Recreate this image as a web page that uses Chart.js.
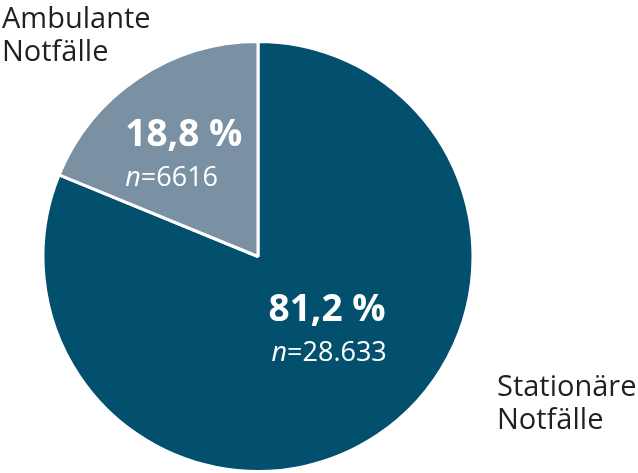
<!DOCTYPE html>
<html>
<head>
<meta charset="utf-8">
<script src="https://cdn.jsdelivr.net/npm/chart.js@4/dist/chart.umd.min.js"></script>
<style>
html,body{margin:0;padding:0;background:#fff;}
#wrap{width:638px;height:473px;position:relative;}
</style>
</head>
<body>
<div id="wrap"><canvas id="c" width="638" height="473"></canvas></div>
<script>
const categories = ['Stationäre Notfälle', 'Ambulante Notfälle'];
const shares = [81.2, 18.8];
const counts = [28633, 6616];
const colors = ['#03506e', '#7a90a3'];

const FONT = '"Open Sans", "Noto Sans", sans-serif';
const fmtPct = v => v.toFixed(1).replace('.', ',') + ' %';
const fmtN = v => v >= 10000 ? String(v).replace(/\B(?=(\d{3})+(?!\d))/g, '.') : String(v);

const labelPlugin = {
  id: 'sliceLabels',
  afterDatasetsDraw(chart, args, opts) {
    const ctx = chart.ctx;
    const meta = chart.getDatasetMeta(0);
    meta.data.forEach((arc, i) => {
      const p = arc.getProps(['x','y','startAngle','endAngle','outerRadius'], true);
      const place = opts.inner[i];
      const mid = (p.startAngle + p.endAngle) / 2 + place.angle * Math.PI / 180;
      const r = p.outerRadius * place.factor;
      const cx = p.x + Math.cos(mid) * r;
      const cy = p.y + Math.sin(mid) * r;
      ctx.save();
      ctx.fillStyle = '#ffffff';
      ctx.textBaseline = 'alphabetic';
      ctx.font = 'bold 37px ' + FONT;
      const pct = fmtPct(shares[i]);
      const w = ctx.measureText(pct).width;
      const left = cx - w / 2;
      ctx.textAlign = 'left';
      ctx.fillText(pct, left, cy);
      ctx.font = 'italic 27px ' + FONT;
      ctx.fillText('n', left + place.nShift, cy + 40);
      const nw = ctx.measureText('n').width;
      ctx.font = '27px ' + FONT;
      ctx.fillText('=' + fmtN(counts[i]), left + place.nShift + nw, cy + 40);
      ctx.restore();
    });
    ctx.save();
    ctx.fillStyle = '#231f20';
    ctx.font = '29px ' + FONT;
    ctx.textAlign = 'left';
    ctx.textBaseline = 'alphabetic';
    opts.outer.forEach((o, i) => {
      const parts = categories[i].split(' ');
      parts.forEach((t, k) => ctx.fillText(t, o.x, o.y + k * 33));
    });
    ctx.restore();
  }
};

new Chart(document.getElementById('c'), {
  type: 'pie',
  data: {
    labels: categories,
    datasets: [{
      data: shares,
      backgroundColor: colors,
      borderColor: '#ffffff',
      borderWidth: 3
    }]
  },
  options: {
    responsive: false,
    animation: false,
    events: [],
    layout: { padding: { left: 39, top: 40, right: 161, bottom: 0 } },
    plugins: {
      legend: { display: false },
      tooltip: { enabled: false },
      sliceLabels: {
        inner: [
          { factor: 0.44, angle: -13, nShift: 3 },
          { factor: 0.62, angle: 0, nShift: 0 }
        ],
        outer: [
          { x: 497, y: 396 },
          { x: 2, y: 28 }
        ]
      }
    }
  },
  plugins: [labelPlugin]
});
</script>
</body>
</html>
